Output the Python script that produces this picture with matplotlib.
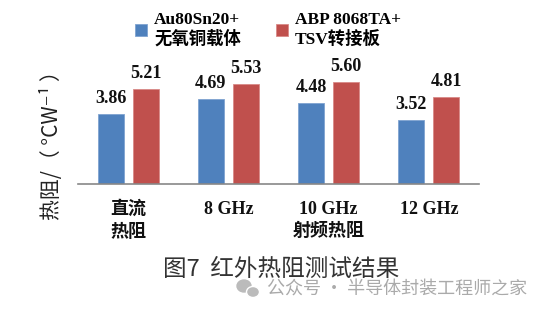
import numpy as np
import matplotlib.pyplot as plt
from matplotlib.patches import Ellipse

# data
categories = ['直流\n热阻', '8 GHz', '10 GHz\n射频热阻', '12 GHz']
au_sn = [3.86, 4.69, 4.48, 3.52]
abp = [5.21, 5.53, 5.60, 4.81]
series_names = ['Au80Sn20+\n无氧铜载体', 'ABP 8068TA+\nTSV转接板']

serif_cjk = ['Liberation Serif', 'Noto Sans CJK SC']
sans_cjk = ['Noto Sans CJK SC', 'DejaVu Sans']

fig = plt.figure(figsize=(5.54, 3.24), dpi=100)
ax = fig.add_axes([78 / 554, (324 - 184) / 324, (479 - 78) / 554, 109 / 324])

x = np.arange(len(categories))
w = 0.26
b1 = ax.bar(x - 0.175, au_sn, w, color='#4F81BD', edgecolor='#7FA3D0', linewidth=0.6)
b2 = ax.bar(x + 0.175, abp, w, color='#C0504D', edgecolor='#D98A88', linewidth=0.6)

for bars, vals in [(b1, au_sn), (b2, abp)]:
    for r, v in zip(bars, vals):
        ax.annotate(f'{v:.2f}', (r.get_x() + r.get_width() / 2, v),
                    xytext=(0, 5), textcoords='offset points',
                    ha='center', va='bottom', fontsize=13, fontweight='bold',
                    family='Liberation Serif', color='#111111')

ax.set_xlim(-0.5, 3.5)
ax.set_ylim(0, 6)
ax.set_xticks(x)
ax.set_xticklabels(categories, family=serif_cjk, fontweight='bold', fontsize=13,
                   linespacing=1.4, color='#111111')
ax.tick_params(axis='x', length=0, pad=12)
ax.set_yticks([])
for s in ['top', 'right', 'left']:
    ax.spines[s].set_visible(False)
ax.spines['bottom'].set_color('#888888')
ax.spines['bottom'].set_linewidth(1.2)

fig.text(52 / 554, 1 - 140 / 324, '热阻/（ °CW⁻¹ ）', rotation=90, ha='center', va='center',
         fontsize=15, family=sans_cjk, color='#222222')

leg = fig.legend([b1, b2], series_names, loc='center', bbox_to_anchor=(268 / 554, 1 - 30 / 324),
                 ncol=2, frameon=False, handlelength=0.7, handleheight=0.7, handletextpad=0.4,
                 columnspacing=2.0, prop={'family': serif_cjk, 'weight': 'bold', 'size': 12.5})

fig.text(163 / 554, 1 - 269 / 324, '图7  红外热阻测试结果', ha='left', va='center',
         fontsize=17, family=sans_cjk, color='#333333')

# watermark
fig.text(267 / 554, 1 - 290 / 324, '公众号 · 半导体封装工程师之家', ha='left', va='center',
         fontsize=13, family=sans_cjk, color='#AAAAAA')
fig.patches.append(Ellipse((244 / 554, 1 - 286 / 324), 14 / 554, 12 / 324,
                           transform=fig.transFigure, color='#BBBBBB'))
fig.patches.append(Ellipse((253 / 554, 1 - 292 / 324), 13 / 554, 11 / 324,
                           transform=fig.transFigure, color='#BBBBBB', ec='white', lw=1))

fig.savefig('out.png', dpi=100)
